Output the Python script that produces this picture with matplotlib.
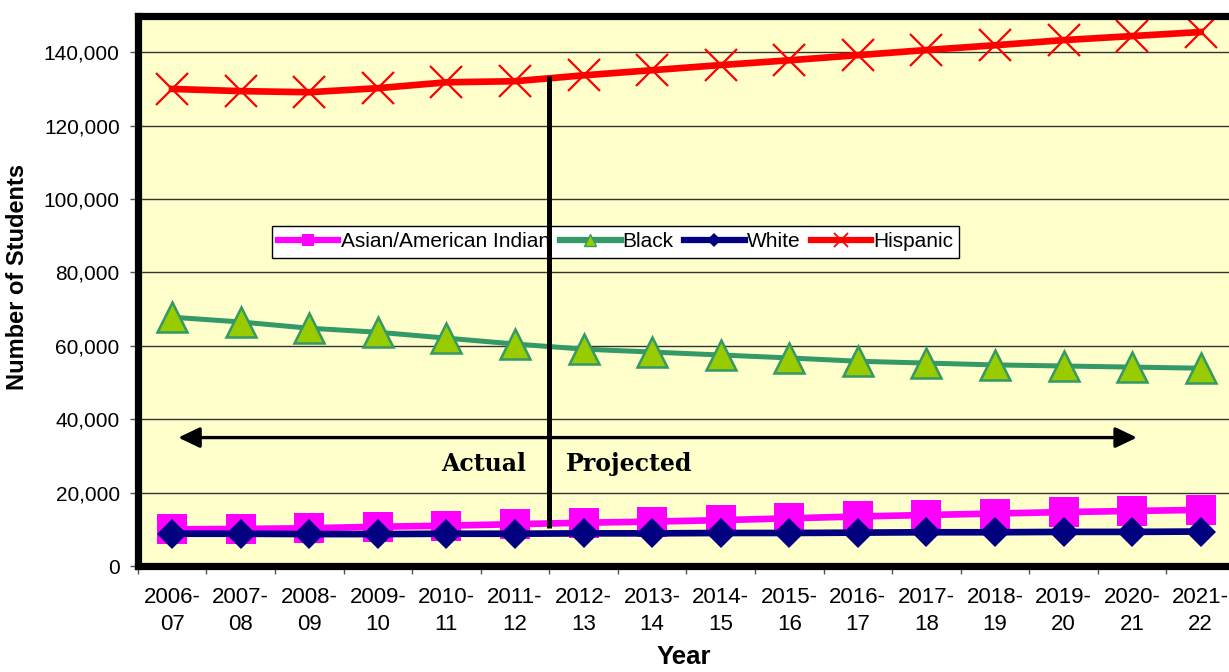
import matplotlib
matplotlib.use("Agg")
import matplotlib.pyplot as plt
from matplotlib.lines import Line2D
from matplotlib.ticker import FuncFormatter, FixedLocator

years = ["2006-\n07", "2007-\n08", "2008-\n09", "2009-\n10", "2010-\n11", "2011-\n12",
         "2012-\n13", "2013-\n14", "2014-\n15", "2015-\n16", "2016-\n17", "2017-\n18",
         "2018-\n19", "2019-\n20", "2020-\n21", "2021-\n22"]

asian = [10000, 10100, 10300, 10700, 11000, 11400, 11800, 12100, 12500, 13000,
         13500, 13900, 14300, 14700, 15000, 15300]
black = [67800, 66500, 64800, 63700, 62100, 60500, 59100, 58300, 57500, 56700,
         55800, 55300, 54800, 54500, 54200, 53900]
white = [8800, 8800, 8700, 8700, 8800, 8800, 8900, 8900, 9000, 9000,
         9100, 9200, 9200, 9300, 9300, 9400]
hispanic = [130000, 129400, 129100, 130200, 131800, 132100, 133700, 135100, 136500, 137800,
            139200, 140600, 141900, 143300, 144400, 145500]

series_names = ["Asian/American Indian", "Black", "White", "Hispanic"]

y_ticks = [0, 20000, 40000, 60000, 80000, 100000, 120000, 140000]

# boundary between actual and projected years, plus the span arrow
split_x = 5.5
split_y = (10300, 133400)
arrow_span = (0.09, 14.07)
arrow_y = 35000
label_y = 27800

fig = plt.figure(figsize=(12.29, 6.72), dpi=100)
ax = fig.add_axes([0.1121, 0.1577, 0.8928, 0.8192])
ax.set_facecolor("#FFFFCC")

x = list(range(len(years)))

ax.plot(x, asian, color="#FF00FF", lw=4.8, marker="s", markersize=22,
        markerfacecolor="#FF00FF", markeredgewidth=0, zorder=3)
ax.plot(x, black, color="#339966", lw=3.6, marker="^", markersize=21,
        markerfacecolor="#99CC00", markeredgecolor="#339966", markeredgewidth=1.8, zorder=3)
ax.plot(x, white, color="#000080", lw=4.8, marker="D", markersize=15.5,
        markerfacecolor="#000080", markeredgewidth=0, zorder=3.5)
ax.plot(x, hispanic, color="#FF0000", lw=4.8, marker="x", markersize=23,
        markeredgecolor="#FF0000", markeredgewidth=1.6, zorder=3)

ax.set_xlim(-0.5, len(years) - 0.5)
ax.set_ylim(0, 150000)

# grid
for v in y_ticks[1:]:
    ax.axhline(v, color="#333333", lw=1.0, zorder=1)

# actual / projected divider
ax.plot([split_x, split_x], list(split_y), color="black", lw=3.6, zorder=6,
        solid_capstyle="butt")
ax.annotate("", xy=(arrow_span[0], arrow_y), xytext=(arrow_span[1], arrow_y),
            arrowprops=dict(arrowstyle="<|-|>,head_length=1.3,head_width=0.62",
                            color="black", lw=2.4, shrinkA=0, shrinkB=0), zorder=6)
ax.text(5.16, label_y, "Actual", ha="right", va="center", fontsize=17,
        fontweight="bold", family="DejaVu Serif", zorder=6)
ax.text(5.74, label_y, "Projected", ha="left", va="center", fontsize=17,
        fontweight="bold", family="DejaVu Serif", zorder=6)

# axes styling
for s in ax.spines.values():
    s.set_linewidth(5.2)
    s.set_color("black")
    s.set_zorder(7)

ax.yaxis.set_major_locator(FixedLocator(y_ticks))
ax.yaxis.set_major_formatter(FuncFormatter(lambda v, p: f"{int(v):,}"))
ax.tick_params(axis="y", length=6, width=1, color="#555555", pad=7,
               labelsize=15, labelfontfamily="Liberation Sans")

ax.set_xticks(x)
ax.set_xticklabels(years, fontsize=16, family="Liberation Sans", linespacing=1.4)
ax.set_xticks([i + 0.5 for i in range(-1, len(years))], minor=True)
ax.tick_params(axis="x", which="major", length=0, pad=15)
ax.tick_params(axis="x", which="minor", length=6, width=1, color="#555555")

fig.text(0.0145, 0.588, "Number of Students", rotation=90, ha="center", va="center",
         fontsize=17, fontweight="bold", family="Liberation Sans")
fig.text(0.556, 0.004, "Year", ha="center", va="bottom",
         fontsize=18.5, fontweight="bold", family="Liberation Sans")

# legend
handles = [
    Line2D([], [], color="#FF00FF", lw=4.5, marker="s", markersize=9,
           markerfacecolor="#FF00FF", markeredgewidth=0),
    Line2D([], [], color="#339966", lw=4.5, marker="^", markersize=9,
           markerfacecolor="#99CC00", markeredgecolor="#339966", markeredgewidth=1),
    Line2D([], [], color="#000080", lw=4.5, marker="D", markersize=7,
           markerfacecolor="#000080", markeredgewidth=0),
    Line2D([], [], color="#FF0000", lw=4.5, marker="x", markersize=10,
           markeredgecolor="#FF0000", markeredgewidth=1.3),
]
leg = ax.legend(handles, series_names, loc="center", bbox_to_anchor=(0.4355, 0.5886),
                ncol=4, frameon=True, fancybox=False, shadow=False,
                prop={"family": "Liberation Sans", "size": 15},
                handlelength=2.9, handletextpad=0.1, columnspacing=0.5,
                borderpad=0.3, borderaxespad=0)
leg.get_frame().set_edgecolor("black")
leg.get_frame().set_linewidth(1.0)
leg.get_frame().set_facecolor("white")
leg.get_frame().set_alpha(1)
leg.set_zorder(5)

fig.savefig("out.png", dpi=100)
